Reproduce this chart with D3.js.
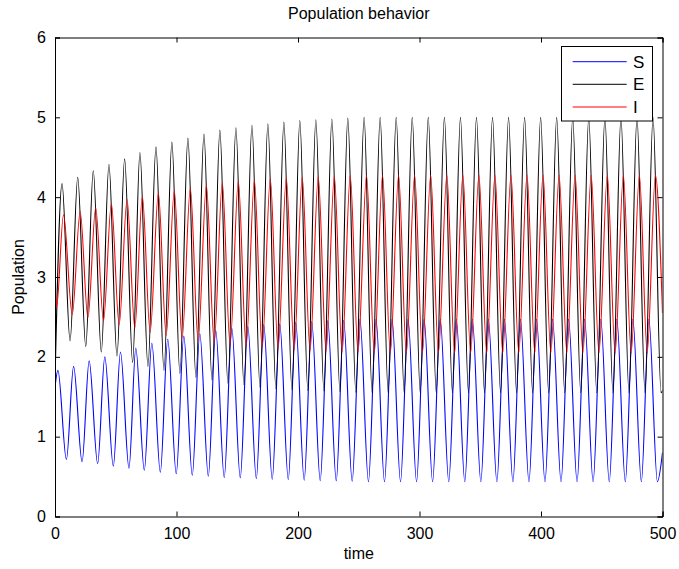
<!DOCTYPE html>
<html>
<head>
<meta charset="utf-8">
<script src="https://cdn.jsdelivr.net/npm/d3@7"></script>
<style>
  html, body { margin: 0; padding: 0; background: #fff; }
  svg { display: block; }
  text { font-family: "Liberation Sans", Arial, Helvetica, sans-serif; }
</style>
</head>
<body>
<svg id="chart" width="679" height="569"></svg>
<script>
// ---------------- data ----------------
const title = "Population behavior";
const xLabel = "time";
const yLabel = "Population";
const xTicks = [0, 100, 200, 300, 400, 500];
const yTicks = [0, 1, 2, 3, 4, 5, 6];
const seriesNames = ["S", "E", "I"];

// S (blue): start, peaks, troughs, end
const sStart = [[0, 1.62]];
const sPeakT = [2.4, 15.3, 28.1, 41.0, 53.9, 66.5, 79.7, 92.8, 106.0, 119.2, 132.3, 145.5, 158.7, 171.8, 185.0, 198.1, 211.3, 224.5, 237.6, 251.0, 264.2, 277.4, 290.6, 303.8, 317.1, 330.3, 343.5, 356.7, 369.9, 383.1, 396.3, 409.5, 422.7, 435.9, 449.2, 462.4, 475.6, 488.8];
const sPeakV = [1.83, 1.88, 1.95, 2.00, 2.06, 2.11, 2.17, 2.22, 2.26, 2.29, 2.33, 2.36, 2.38, 2.40, 2.41, 2.43, 2.44, 2.45, 2.455, 2.47, 2.47, 2.47, 2.47, 2.47, 2.47, 2.47, 2.47, 2.47, 2.47, 2.47, 2.47, 2.47, 2.47, 2.47, 2.47, 2.47, 2.47, 2.47];
const sTroughT = [9.4, 22.3, 35.1, 48.0, 60.9, 73.5, 86.7, 99.8, 113.0, 126.2, 139.3, 152.5, 165.7, 178.8, 192.0, 205.1, 218.3, 231.5, 244.6, 258.0, 271.2, 284.4, 297.6, 310.8, 324.1, 337.3, 350.5, 363.7, 376.9, 390.1, 403.3, 416.5, 429.7, 442.9, 456.2, 469.4, 482.6, 495.8];
const sTroughV = [0.714, 0.685, 0.66, 0.63, 0.605, 0.58, 0.555, 0.535, 0.517, 0.505, 0.49, 0.485, 0.476, 0.467, 0.463, 0.455, 0.45, 0.447, 0.442, 0.435, 0.435, 0.435, 0.435, 0.435, 0.435, 0.435, 0.435, 0.435, 0.435, 0.435, 0.435, 0.435, 0.435, 0.435, 0.435, 0.435, 0.435, 0.435];
const sEnd = [[500, 0.80]];

// E (black)
const eStart = [[0, 1.70]];
const ePeakT = [5.8, 18.7, 31.5, 44.4, 57.3, 69.9, 83.1, 96.2, 109.4, 122.6, 135.7, 148.9, 162.1, 175.2, 188.4, 201.5, 214.7, 227.9, 241.0, 254.4, 267.6, 280.8, 294.0, 307.2, 320.5, 333.7, 346.9, 360.1, 373.3, 386.5, 399.7, 412.9, 426.1, 439.3, 452.6, 465.8, 479.0, 492.2];
const ePeakV = [4.17, 4.25, 4.33, 4.41, 4.48, 4.56, 4.63, 4.69, 4.74, 4.79, 4.84, 4.87, 4.90, 4.92, 4.94, 4.96, 4.97, 4.98, 4.99, 5.00, 5.00, 5.00, 5.00, 5.00, 5.00, 5.00, 5.00, 5.00, 5.00, 5.00, 5.00, 5.00, 5.00, 5.00, 5.00, 5.00, 5.00, 5.00];
const eTroughT = [12.4, 25.3, 38.1, 51.0, 63.9, 76.5, 89.7, 102.8, 116.0, 129.2, 142.3, 155.5, 168.7, 181.8, 195.0, 208.1, 221.3, 234.5, 247.6, 261.0, 274.2, 287.4, 300.6, 313.8, 327.1, 340.3, 353.5, 366.7, 379.9, 393.1, 406.3, 419.5, 432.7, 445.9, 459.2, 472.4, 485.6, 498.8];
const eTroughV = [2.20, 2.13, 2.06, 2.01, 1.93, 1.88, 1.83, 1.79, 1.74, 1.71, 1.67, 1.65, 1.62, 1.60, 1.59, 1.58, 1.575, 1.566, 1.557, 1.55, 1.55, 1.55, 1.55, 1.55, 1.55, 1.55, 1.55, 1.55, 1.55, 1.55, 1.55, 1.55, 1.55, 1.55, 1.55, 1.55, 1.55, 1.55];
const eEnd = [[500, 1.58]];

// I (red)
const iStart = [[0, 3.10], [1.3, 2.62]];
const iPeakT = [7.0, 20.7, 33.5, 46.4, 59.3, 71.9, 85.1, 98.2, 111.4, 124.6, 137.7, 150.9, 164.1, 177.2, 190.4, 203.5, 216.7, 229.9, 243.0, 256.4, 269.6, 282.8, 296.0, 309.2, 322.5, 335.7, 348.9, 362.1, 375.3, 388.5, 401.7, 414.9, 428.1, 441.3, 454.6, 467.8, 481.0, 494.2];
const iPeakV = [3.78, 3.82, 3.87, 3.92, 3.97, 4.01, 4.05, 4.08, 4.11, 4.15, 4.18, 4.20, 4.21, 4.23, 4.24, 4.25, 4.255, 4.26, 4.27, 4.275, 4.275, 4.275, 4.275, 4.275, 4.275, 4.275, 4.275, 4.275, 4.275, 4.275, 4.275, 4.275, 4.275, 4.275, 4.275, 4.275, 4.275, 4.275];
const iTroughT = [14.2, 27.1, 39.9, 52.8, 65.7, 78.3, 91.5, 104.6, 117.8, 131.0, 144.1, 157.3, 170.5, 183.6, 196.8, 209.9, 223.1, 236.3, 249.4, 262.8, 276.0, 289.2, 302.4, 315.6, 328.9, 342.1, 355.3, 368.5, 381.7, 394.9, 408.1, 421.3, 434.5, 447.7, 461.0, 474.2, 487.4];
const iTroughV = [2.53, 2.49, 2.45, 2.40, 2.36, 2.31, 2.27, 2.23, 2.20, 2.18, 2.15, 2.13, 2.11, 2.10, 2.09, 2.08, 2.07, 2.06, 2.06, 2.05, 2.05, 2.05, 2.05, 2.05, 2.05, 2.05, 2.05, 2.05, 2.05, 2.05, 2.05, 2.05, 2.05, 2.05, 2.05, 2.05, 2.05];
const iEnd = [[500, 2.55]];

// ---------------- build series ----------------
function build(start, pT, pV, tT, tV, end) {
  const pts = start.map(d => ({ t: d[0], v: d[1] }));
  pT.forEach((t, i) => pts.push({ t, v: pV[i] }));
  tT.forEach((t, i) => pts.push({ t, v: tV[i] }));
  end.forEach(d => pts.push({ t: d[0], v: d[1] }));
  return pts.sort((a, b) => a.t - b.t);
}
const series = [
  { name: "S", color: "#0000ff", pts: build(sStart, sPeakT, sPeakV, sTroughT, sTroughV, sEnd) },
  { name: "E", color: "#000000", pts: build(eStart, ePeakT, ePeakV, eTroughT, eTroughV, eEnd) },
  { name: "I", color: "#ff0000", pts: build(iStart, iPeakT, iPeakV, iTroughT, iTroughV, iEnd) }
];

// ---------------- drawing ----------------
const svg = d3.select("#chart");
const L = 55, R = 662.5, T = 37.5, B = 516.5;
const x = d3.scaleLinear().domain([0, 500]).range([L, R]);
const y = d3.scaleLinear().domain([0, 6]).range([B, T]);

svg.append("rect").attr("width", 679).attr("height", 569).attr("fill", "#fff");

svg.append("clipPath").attr("id", "clip")
  .append("rect").attr("x", L).attr("y", T).attr("width", R - L).attr("height", B - T);

const line = d3.line().x(d => x(d.t)).y(d => y(d.v)).curve(d3.curveMonotoneX);
const g = svg.append("g").attr("clip-path", "url(#clip)");
series.forEach(s => {
  g.append("path").datum(s.pts)
    .attr("d", line)
    .attr("fill", "none")
    .attr("stroke", s.color)
    .attr("stroke-width", 1.1);
});

// axes (MATLAB style: inward ticks on all four sides)
const tk = 5;
const fs = 16;
const xb = svg.append("g").attr("transform", `translate(0,${B})`)
  .call(d3.axisBottom(x).tickValues(xTicks).tickSize(-tk).tickPadding(11).tickFormat(d3.format("d")));
const xt = svg.append("g").attr("transform", `translate(0,${T})`)
  .call(d3.axisTop(x).tickValues(xTicks).tickSize(-tk).tickFormat(""));
const yl = svg.append("g").attr("transform", `translate(${L},0)`)
  .call(d3.axisLeft(y).tickValues(yTicks).tickSize(-tk).tickPadding(9).tickFormat(d3.format("d")));
const yr = svg.append("g").attr("transform", `translate(${R},0)`)
  .call(d3.axisRight(y).tickValues(yTicks).tickSize(-tk).tickFormat(""));
[xb, xt, yl, yr].forEach(a => {
  a.select(".domain").attr("stroke", "#000").attr("stroke-width", 1);
  a.selectAll(".tick line").attr("stroke", "#000");
  a.selectAll("text").attr("font-size", fs).attr("fill", "#000")
    .attr("font-family", "'Liberation Sans', Arial, sans-serif");
});

// labels
svg.append("text").attr("x", (L + R) / 2).attr("y", 19).attr("text-anchor", "middle")
  .attr("font-size", 16).text(title);
svg.append("text").attr("x", (L + R) / 2).attr("y", 559).attr("text-anchor", "middle")
  .attr("font-size", 16).text(xLabel);
svg.append("text").attr("transform", `translate(24,${(T + B) / 2}) rotate(-90)`)
  .attr("text-anchor", "middle").attr("font-size", 16).text(yLabel);

// legend
const lg = svg.append("g");
lg.append("rect").attr("x", 561.5).attr("y", 46.5).attr("width", 91).attr("height", 74.5)
  .attr("fill", "#fff").attr("stroke", "#000").attr("stroke-width", 1);
const ly = [61.7, 84.3, 107];
series.forEach((s, i) => {
  lg.append("line").attr("x1", 572.7).attr("x2", 626.7).attr("y1", ly[i]).attr("y2", ly[i])
    .attr("stroke", s.color).attr("stroke-width", 1);
  lg.append("text").attr("x", 633).attr("y", ly[i]).attr("dy", "0.36em")
    .attr("font-size", 17).text(seriesNames[i]);
});
</script>
</body>
</html>
